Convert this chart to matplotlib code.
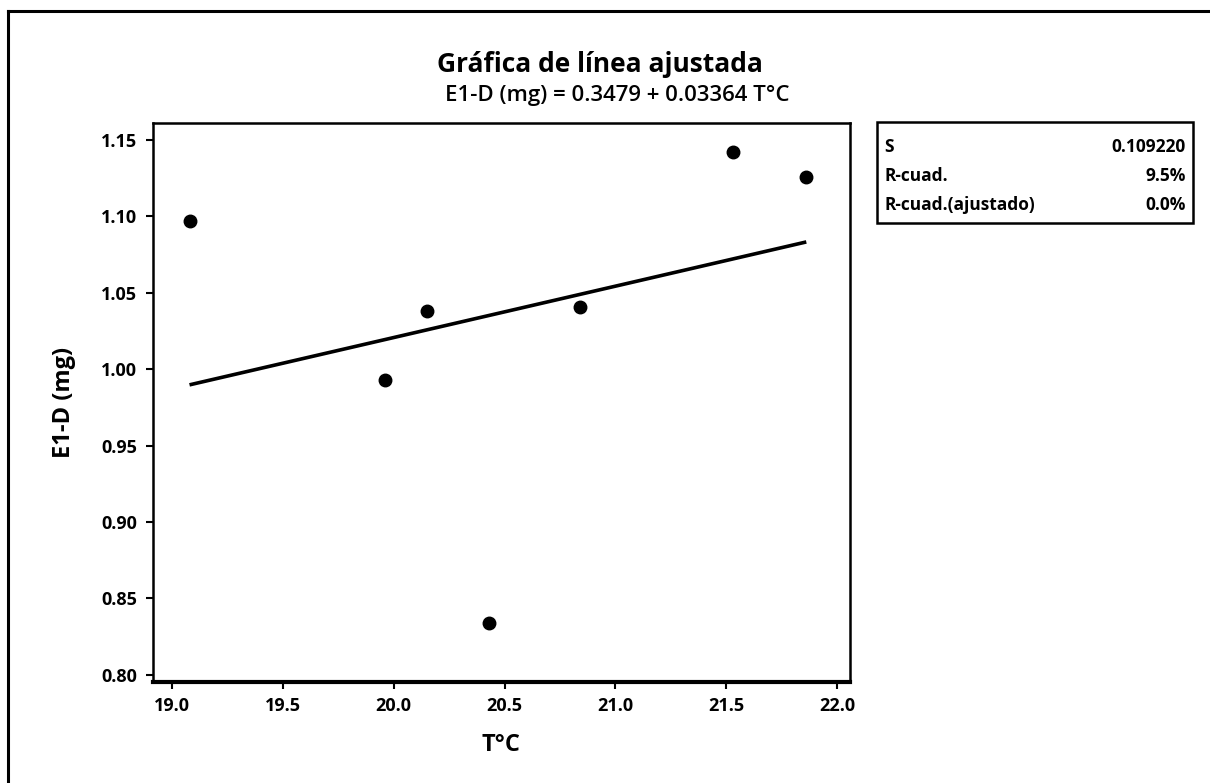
import matplotlib
matplotlib.use("Agg")
import matplotlib.pyplot as plt
from matplotlib.patches import Rectangle
from matplotlib.lines import Line2D
import numpy as np

# Data
temp_c = [19.08, 19.96, 20.15, 20.84, 21.53, 21.86, 20.43]
e1d_mg = [1.097, 0.993, 1.038, 1.041, 1.142, 1.126, 0.834]
intercept = 0.3479
slope = 0.03364
x_ticks = [19.0, 19.5, 20.0, 20.5, 21.0, 21.5, 22.0]
y_ticks = [0.80, 0.85, 0.90, 0.95, 1.00, 1.05, 1.10, 1.15]
stat_labels = ["S", "R-cuad.", "R-cuad.(ajustado)"]
stat_values = ["0.109220", "9.5%", "0.0%"]

plt.rcParams['font.family'] = ['Open Sans', 'DejaVu Sans']

W, H = 1210, 783
fig = plt.figure(figsize=(W / 100, H / 100), dpi=100)
fig.patch.set_facecolor('white')

def fx(px):
    return px / W

def fy(py):
    return 1 - py / H

ax = fig.add_axes([fx(152.7), fy(681.7), fx(850) - fx(152.7), fy(122.7) - fy(681.7)])
ax.set_xlim(18.914, 22.057)
ax.set_ylim(0.7955, 1.1613)

xs = np.array([min(temp_c), max(temp_c)])
ax.plot(xs, intercept + slope * xs, color='black', lw=2.6, solid_capstyle='butt', zorder=2)
ax.plot(temp_c, e1d_mg, 'o', color='black', markersize=9, zorder=3)

ax.set_xticks(x_ticks)
ax.set_xticklabels([f"{v:.1f}" for v in x_ticks])
ax.set_yticks(y_ticks)
ax.set_yticklabels([f"{v:.2f}" for v in y_ticks])
ax.tick_params(direction='out', length=5, width=1.5, labelsize=13, pad=6, colors='black')
for lab in ax.get_xticklabels() + ax.get_yticklabels():
    lab.set_fontweight('bold')
for sp in ax.spines.values():
    sp.set_linewidth(1.8)
ax.spines['bottom'].set_linewidth(3)

fig.text(fx(501), fy(745), "T°C", ha='center', va='center', fontsize=17, fontweight='bold')
fig.text(fx(64), fy(402), "E1-D (mg)", ha='center', va='center', rotation=90,
         fontsize=17, fontweight='bold')

fig.text(fx(600), fy(64), "Gráfica de línea ajustada", ha='center', va='center',
         fontsize=19, fontweight='bold')
fig.text(fx(617), fy(95), f"E1-D (mg) = {intercept} + {slope} T°C", ha='center', va='center',
         fontsize=16, fontweight='semibold')

# Stats box
bx0, by0, bx1, by1 = 876.7, 122.3, 1193, 223
fig.patches.append(Rectangle((fx(bx0), fy(by1)), fx(bx1) - fx(bx0), fy(by0) - fy(by1),
                             transform=fig.transFigure, fill=False, lw=1.8, edgecolor='black'))
row_y = [147, 176, 205]
for lab, val, yy in zip(stat_labels, stat_values, row_y):
    fig.text(fx(884), fy(yy), lab, ha='left', va='center', fontsize=12.5, fontweight='bold')
    fig.text(fx(1186), fy(yy), val, ha='right', va='center', fontsize=12.5, fontweight='bold')

# Outer frame (top and left)
fig.lines.append(Line2D([fx(8), fx(8)], [fy(783), fy(11)], transform=fig.transFigure, color='black', lw=2.2))
fig.lines.append(Line2D([fx(8), fx(1210)], [fy(11), fy(11)], transform=fig.transFigure, color='black', lw=2.2))

fig.savefig("out.png", dpi=100)
